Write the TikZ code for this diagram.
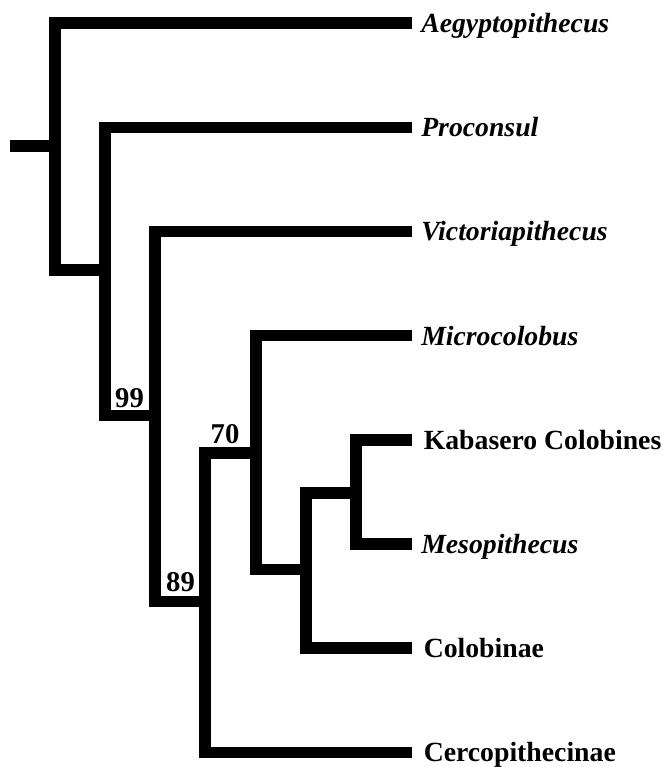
\documentclass[tikz,border=0pt]{standalone}
\usepackage{fontspec}
\setmainfont{Liberation Serif}
\begin{document}
\begin{tikzpicture}[x=0.75pt,y=-0.75pt,
  branch/.style={line width=8.5pt,line cap=butt,line join=miter,black},
  taxon/.style={anchor=base west,inner sep=0pt,font=\fontsize{20.8pt}{24pt}\selectfont\bfseries},
  genus/.style={taxon,font=\fontsize{20.8pt}{24pt}\selectfont\bfseries\itshape},
  support/.style={anchor=base,inner sep=0pt,font=\fontsize{21.5pt}{24pt}\selectfont\bfseries}]
\useasboundingbox (0,0) rectangle (665,767);
% tip ends
\coordinate (eA) at (412,23);
\coordinate (eB) at (412,127.5);
\coordinate (eC) at (412,231.5);
\coordinate (eD) at (412,335.8);
\coordinate (eE) at (412,440);
\coordinate (eF) at (412,544);
\coordinate (eG) at (412,648);
\coordinate (eH) at (412,752.5);
% internal nodes
\coordinate (root) at (10,146);
\coordinate (n1) at (55,146);
\coordinate (n2) at (105,270);
\coordinate (n3) at (155,415.5);
\coordinate (n4) at (205,601.7);
\coordinate (n5) at (256,453);
\coordinate (n6) at (306,569.5);
\coordinate (n7) at (356,493);
% branches
\draw[branch] (root) -- (n1);
\draw[branch] (eA) -| (n1) |- (n2);
\draw[branch] (eB) -| (n2) |- (n3);
\draw[branch] (eC) -| (n3) |- (n4);
\draw[branch] (n5) -| (n4) |- (eH);
\draw[branch] (eD) -| (n5) |- (n6);
\draw[branch] (n7) -| (n6) |- (eG);
\draw[branch] (eE) -| (n7) |- (eF);
% labels
\node[genus] (lA) at (421,32.2) {Aegyptopithecus};
\node[genus] (lB) at (421,136.7) {Proconsul};
\node[genus] (lC) at (421,240.7) {Victoriapithecus};
\node[genus] (lD) at (421,345) {Microcolobus};
\node[taxon] (lE) at (423.5,449.2) {Kabasero Colobines};
\node[genus] (lF) at (421,553.2) {Mesopithecus};
\node[taxon] (lG) at (423.5,657.2) {Colobinae};
\node[taxon] (lH) at (423.5,761.7) {Cercopithecinae};
% support values
\node[support] (s99) at (129.5,407.8) {99};
\node[support] (s70) at (225,443.3) {70};
\node[support] (s89) at (180.5,591.8) {89};
\end{tikzpicture}
\end{document}
